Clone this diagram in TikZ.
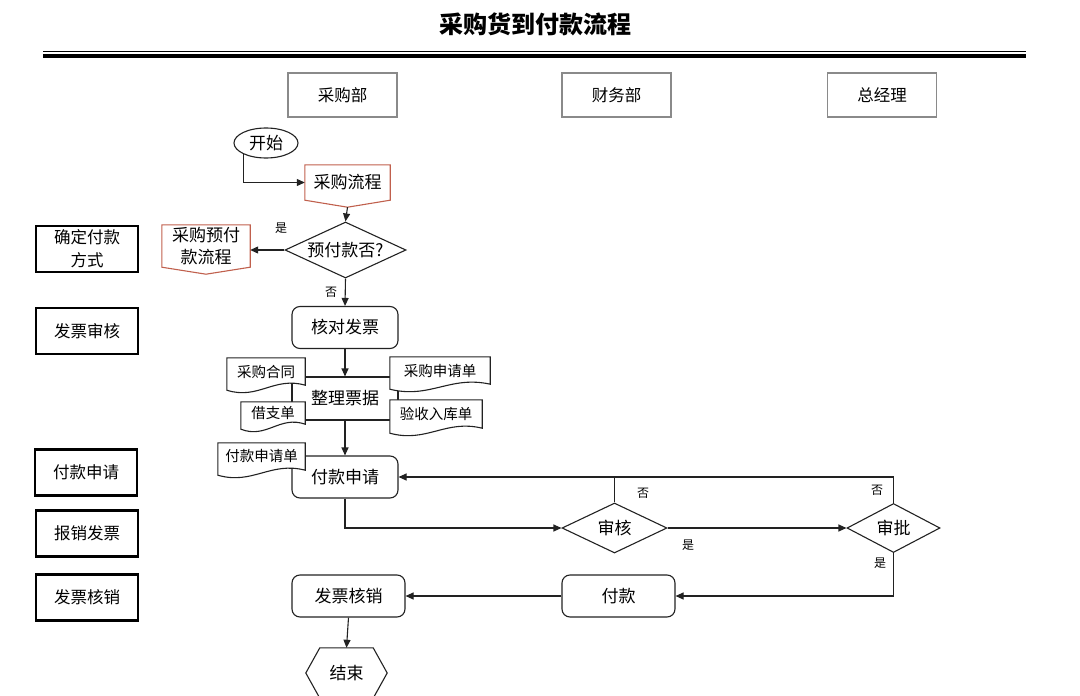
\documentclass[tikz,border=0pt]{standalone}
\usepackage{fontspec}
\setmainfont{Noto Sans CJK SC}
\usetikzlibrary{arrows.meta,shapes.geometric,calc}
\pgfdeclarelayer{back}
\pgfdeclarelayer{docbg}
\pgfsetlayers{back,docbg,main}
\definecolor{ln}{HTML}{222222}
\definecolor{redb}{HTML}{C0604D}
\definecolor{hdrc}{HTML}{8A8A8A}
\newcommand\mydocshape[1]{%
  \begin{pgfonlayer}{docbg}
  \draw[conn,fill=white] (#1.north west) -- ($(#1.south west)+(0,5)$)
    .. controls ($(#1.south west)!0.4!(#1.south east)+(0,15)$) and ($(#1.south west)!0.6!(#1.south east)+(0,-9)$) .. (#1.south east)
    -- (#1.north east) -- cycle;
  \end{pgfonlayer}}
\newcommand\myoffshape[2]{%
  \draw[draw=redb,line width=1.1pt] (#1.north west) -- (#1.north east) -- (#1.south east) -- ([yshift=-#2pt]#1.south) -- (#1.south west) -- cycle;}
\begin{document}
\begin{tikzpicture}[x=1pt,y=-1pt,
  conn/.style={draw=ln,line width=1.1pt},
  arr/.style={conn,-{Triangle[length=8pt,width=7pt]}},
  rbox/.style={draw=ln,line width=1.1pt,rounded corners=8pt,minimum width=106pt,minimum height=42pt,inner sep=0pt,font=\fontsize{17}{20}\selectfont},
  sqbox/.style={draw=ln,line width=1.1pt,minimum width=106pt,minimum height=43pt,inner sep=0pt,font=\fontsize{17}{20}\selectfont},
  lbl/.style={draw=black,line width=2.4pt,minimum width=102pt,minimum height=46pt,inner sep=0pt,align=center,font=\fontsize{16.5}{23}\selectfont},
  headbox/.style={draw=hdrc,line width=1.1pt,minimum width=109pt,minimum height=44pt,inner sep=0pt,font=\fontsize{16.5}{20}\selectfont},
  dec/.style={diamond,draw=ln,line width=1.1pt,inner sep=0pt,font=\fontsize{17}{20}\selectfont},
  yn/.style={font=\fontsize{12}{14}\selectfont,inner sep=0pt},
  docn/.style={inner sep=0pt,font=\fontsize{14.5}{17}\selectfont},
  off/.style={inner sep=0pt,font=\fontsize{17}{22}\selectfont,align=center},
]
\useasboundingbox (0,0) rectangle (1080,696);
\clip (0,0) rectangle (1080,696);

% title and rule
\node[font=\bfseries\fontsize{24}{28}\selectfont] (title) at (535,24) {采购货到付款流程};
\draw[black,line width=1.5pt] (43,51.5) -- (1026,51.5);
\draw[black,line width=4pt] (43,55.5) -- (1026,55.5);

% headers
\node[headbox] (h1) at (342.5,95) {采购部};
\node[headbox] (h2) at (616.5,95) {财务部};
\node[headbox] (h3) at (882,95) {总经理};

% left labels
\node[lbl] (l1) at (87,249) {确定付款\\方式};
\node[lbl] (l2) at (87,331) {发票审核};
\node[lbl] (l3) at (86,472.5) {付款申请};
\node[lbl] (l4) at (87,533.5) {报销发票};
\node[lbl] (l5) at (87,597.5) {发票核销};

% flow nodes
\node[ellipse,draw=ln,line width=1.1pt,minimum width=64pt,minimum height=30pt,inner sep=0pt,font=\fontsize{17}{20}\selectfont] (start) at (266,143) {开始};
\node[off,minimum width=85pt,minimum height=35pt] (cglc) at (347.5,182.5) {采购流程};
\myoffshape{cglc}{7}
\coordinate (cgtip) at ([yshift=-7pt]cglc.south);
\node[dec,aspect=2.16,minimum width=121pt,minimum height=56pt] (yfk) at (345.5,250) {预付款否?};
\node[off,minimum width=88pt,minimum height=42pt] (yfklc) at (206,246) {采购预付\\款流程};
\myoffshape{yfklc}{7}
\node[rbox] (hd) at (345,327.5) {核对发票};

\begin{pgfonlayer}{back}
\node[sqbox] (zl) at (345,398.5) {整理票据};
\node[rbox] (fksq) at (345,477) {付款申请};
\end{pgfonlayer}

\node[docn,minimum width=78pt,minimum height=27pt] (d1) at (266,371.5) {采购合同};
\mydocshape{d1}
\node[docn,minimum width=64pt,minimum height=22pt] (d2) at (273,413) {借支单};
\mydocshape{d2}
\node[docn,minimum width=100pt,minimum height=27pt] (d3) at (440,370.5) {采购申请单};
\mydocshape{d3}
\node[docn,minimum width=92pt,minimum height=28pt] (d4) at (436,414) {验收入库单};
\mydocshape{d4}
\node[docn,minimum width=87pt,minimum height=27pt] (d5) at (261.5,456.5) {付款申请单};
\mydocshape{d5}

\node[dec,aspect=2.1,minimum width=105pt,minimum height=50pt] (sh) at (614.5,528) {审核};
\node[dec,aspect=1.9,minimum width=93pt,minimum height=49pt] (sp) at (893.5,528) {审批};
\node[rbox,minimum width=113pt] (fk) at (618.5,596) {付款};
\node[rbox,minimum width=113pt] (fphx) at (348.5,596) {发票核销};
\node[inner sep=0pt,minimum width=81pt,minimum height=50pt,font=\fontsize{17}{20}\selectfont] (js) at (346.5,673) {结束};
\draw[conn] (js.west) -- ([xshift=14pt]js.north west) -- ([xshift=-14pt]js.north east) -- (js.east) -- ([xshift=-14pt]js.south east) -- ([xshift=14pt]js.south west) -- cycle;

% yes/no labels
\node[yn] (y1) at (281,228) {是};
\node[yn] (n1) at (331,292) {否};
\node[yn] (n2) at (643,493) {否};
\node[yn] (n3) at (877,490) {否};
\node[yn] (y2) at (688,545) {是};
\node[yn] (y3) at (880,563) {是};

% connectors
\draw[arr] (start.206) |- (cglc.west);
\draw[arr] (cgtip) -- (yfk.north);
\draw[arr] (yfk.west) -- (yfk.west -| yfklc.east);
\draw[arr] (yfk.south) -- (hd.north);
\draw[arr] (hd.south) -- (zl.north);
\draw[arr] (zl.south) -- (fksq.north);
\draw[arr] (fksq.south) |- (sh.west);
\draw[arr] (sh.east) -- (sp.west);
\draw[arr] (sp.north) |- (fksq.east);
\draw[conn] (sh.north) -- (sh.north |- fksq.east);
\draw[arr] (sp.south) |- (fk.east);
\draw[arr] (fk.west) -- (fphx.east);
\draw[arr] (fphx.south) -- (js.north);
\end{tikzpicture}
\end{document}
